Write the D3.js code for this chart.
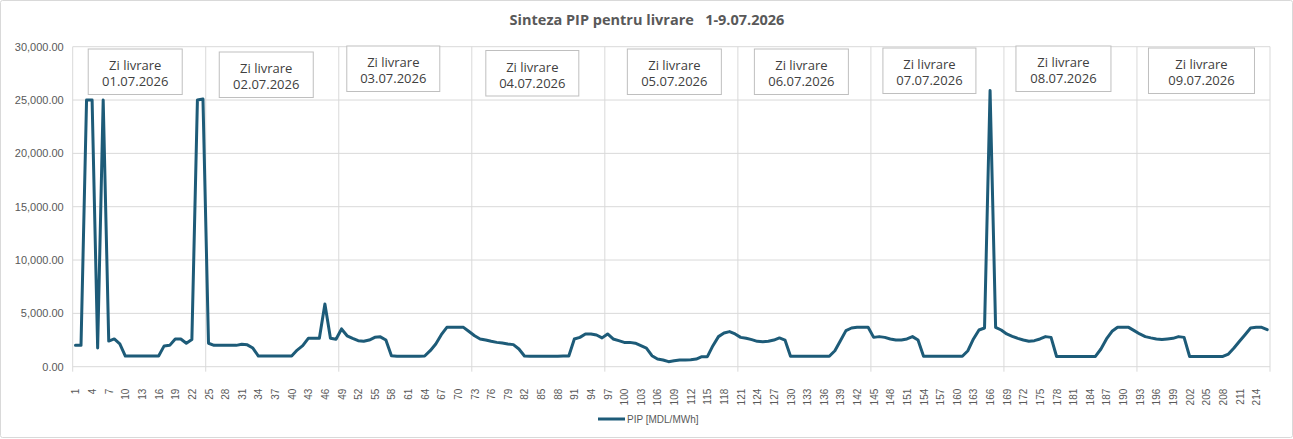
<!DOCTYPE html>
<html><head><meta charset="utf-8">
<script src="https://cdn.jsdelivr.net/npm/d3@7"></script>
<style>
html,body{margin:0;padding:0;background:#fff;}
text{font-family:"Liberation Sans",Arial,sans-serif;}
</style></head>
<body>
<svg id="c" width="1293" height="439"></svg>
<script>
const title = "Sinteza PIP pentru livrare   1-9.07.2026";
const seriesName = "PIP [MDL/MWh]";
const dayLabels = ["01.07.2026","02.07.2026","03.07.2026","04.07.2026","05.07.2026","06.07.2026","07.07.2026","08.07.2026","09.07.2026"];
const boxHeader = "Zi livrare";
const yTicks = [0,5000,10000,15000,20000,25000,30000];

const day1 = [2000,2000,25000,25000,1750,25000,2400,2600,2150,1000,1000,1000,1000,1000,1000,1000,1950,2000,2600,2600,2200,2550,25000,25100];
const day2 = [2200,2000,2000,2000,2000,2000,2100,2050,1750,1000,1000,1000,1000,1000,1000,1000,1560,1970,2660,2660,2660,5880,2660,2570];
const day3 = [3540,2900,2660,2440,2380,2500,2750,2800,2500,1030,980,980,980,980,980,1000,1500,2130,3000,3690,3690,3690,3690,3300];
const day4 = [2900,2600,2500,2380,2280,2220,2130,2070,1660,1000,970,970,970,970,970,970,1000,1000,2600,2750,3070,3070,2970,2700];
const day5 = [3070,2600,2440,2280,2280,2200,1970,1750,1030,720,630,470,560,630,630,660,720,940,940,1970,2820,3160,3290,3070];
const day6 = [2750,2660,2540,2380,2350,2380,2500,2700,2500,980,980,980,980,980,980,980,980,1500,2440,3380,3630,3690,3690,3690];
const day7 = [2750,2820,2750,2600,2500,2500,2600,2820,2500,980,980,980,980,980,980,980,980,1500,2600,3440,3630,25900,3690,3440];
const day8 = [3070,2850,2660,2500,2380,2440,2600,2820,2750,960,960,960,960,960,960,960,960,1660,2600,3320,3690,3690,3690,3380];
const day9 = [3070,2820,2700,2600,2540,2600,2660,2820,2750,960,960,960,960,960,960,960,1190,1750,2380,3000,3630,3690,3690,3470];

const values = [].concat(day1,day2,day3,day4,day5,day6,day7,day8,day9);
const hours = values.map((v,i)=>i+1);
const xTickLabels = hours.filter(h => (h-1)%3===0);

// layout (annotation box placement tweaks per day: dx from day center, top y)
const boxDx = [-4,-6,-12,-6,3,-3,-8,-7,-2];
const boxTop = [49,52,46,50.5,49,49,48,46,48];
const boxW = [94,94,93,93,94,94,93,95,106];

const svg = d3.select("#c");
const W=1293,H=439;
const plot = {l:72.7, r:1270, t:46.7, b:366.7};

svg.append("rect").attr("x",0.5).attr("y",0.5).attr("width",W-1).attr("height",H-2)
  .attr("fill","#fff").attr("stroke","#d9d9d9").attr("rx",2);

const x = d3.scaleBand().domain(hours).range([plot.l,plot.r]).paddingInner(0).paddingOuter(0);
const xc = h => x(h)+x.bandwidth()/2;
const y = d3.scaleLinear().domain([0,30000]).range([plot.b,plot.t]);

// horizontal gridlines
svg.append("g").selectAll("line").data(yTicks).join("line")
  .attr("x1",plot.l).attr("x2",plot.r).attr("y1",d=>y(d)).attr("y2",d=>y(d))
  .attr("stroke","#d9d9d9").attr("stroke-width",1);

// vertical day gridlines
const dayStarts = d3.range(0,10).map(d=>d*24);
svg.append("g").selectAll("line").data(dayStarts).join("line")
  .attr("x1",d=> d<216 ? x(d+1) : plot.r).attr("x2",d=> d<216 ? x(d+1) : plot.r)
  .attr("y1",plot.t).attr("y2",plot.b+5)
  .attr("stroke","#d9d9d9").attr("stroke-width",1);

// y axis labels
const yAxis = d3.axisLeft(y).tickValues(yTicks).tickSize(0).tickPadding(0)
  .tickFormat(d3.format(",.2f"));
const ga = svg.append("g").attr("transform",`translate(${plot.l-9},0)`).call(yAxis);
ga.select(".domain").remove();
ga.selectAll("text").attr("fill","#595959").style("font-size","11px").style("font-family","'Liberation Sans',Arial,sans-serif");

// x axis labels
const xAxis = d3.axisBottom(d3.scalePoint().domain(hours).range([xc(1),xc(216)]))
  .tickValues(xTickLabels).tickSize(0).tickPadding(0);
const gx = svg.append("g").attr("transform",`translate(0,${plot.b+4})`).call(xAxis);
gx.select(".domain").remove();
gx.selectAll("text").attr("fill","#595959").style("font-size","10px")
  .attr("transform","rotate(-90)").attr("text-anchor","end").attr("x",-18).attr("y",0).attr("dy","0.35em")
  .attr("dx",0);
gx.selectAll(".tick text").attr("transform","rotate(-90)").attr("x",-18);

// line
const line = d3.line().x((d,i)=>xc(hours[i])).y(d=>y(d)).curve(d3.curveLinear);
svg.append("path").datum(values).attr("d",line).attr("fill","none")
  .attr("stroke","#1d5b78").attr("stroke-width",3).attr("stroke-linejoin","round").attr("stroke-linecap","round");

// annotation boxes
const boxes = svg.append("g");
dayLabels.forEach((lab,i)=>{
  const cx = (x(i*24+1) + (i===8 ? plot.r : x(i*24+25)))/2 + boxDx[i];
  const g = boxes.append("g");
  g.append("rect").attr("x",cx-boxW[i]/2).attr("y",boxTop[i]).attr("width",boxW[i]).attr("height",45.5)
    .attr("fill","#fff").attr("stroke","#bfbfbf").attr("stroke-width",1);
  g.append("text").attr("x",cx).attr("y",boxTop[i]+21).attr("text-anchor","middle")
    .attr("fill","#404040").style("font-size","13px").style("font-family","'Open Sans',sans-serif").text(boxHeader);
  g.append("text").attr("x",cx).attr("y",boxTop[i]+37).attr("text-anchor","middle")
    .attr("fill","#404040").style("font-size","13px").style("font-family","'Open Sans',sans-serif").text(lab);
});

// title
svg.append("text").attr("x",647).attr("y",25).attr("text-anchor","middle")
  .attr("fill","#595959").style("font-size","14.5px").style("font-weight","bold")
  .style("font-family","'Open Sans',sans-serif").style("white-space","pre").attr("xml:space","preserve").text(title);

// legend
svg.append("line").attr("x1",598).attr("x2",625).attr("y1",419).attr("y2",419)
  .attr("stroke","#1d5b78").attr("stroke-width",3);
svg.append("text").attr("x",627).attr("y",422.5).attr("fill","#595959")
  .style("font-size","10px").text(seriesName);
</script>
</body></html>
